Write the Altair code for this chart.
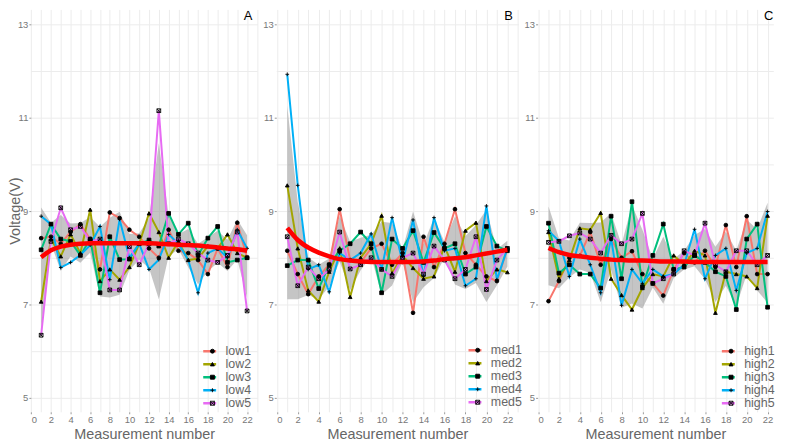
import altair as alt
import pandas as pd

x_vals = list(range(1, 23))

# Panel A (low)
low1 = [8.42, 8.45, 8.30, 8.55, 8.72, 8.40, 7.75, 8.97, 8.85, 8.60, 8.45, 8.20, 8.00, 8.60, 8.15, 8.10, 7.95, 7.65, 8.20, 7.80, 8.75, 8.00]
low2 = [7.06, 8.40, 8.03, 8.50, 8.10, 9.03, 7.50, 7.75, 7.53, 7.80, 8.30, 8.95, 8.55, 8.00, 8.35, 7.95, 7.98, 8.25, 8.20, 8.50, 8.10, 8.00]
low3 = [8.17, 8.72, 8.40, 8.35, 8.05, 8.40, 7.25, 8.45, 7.96, 7.97, 8.30, 8.38, 8.25, 8.95, 8.50, 8.74, 8.05, 8.42, 8.67, 7.90, 7.95, 8.00]
low4 = [8.89, 8.72, 7.79, 7.90, 8.06, 8.27, 8.67, 7.53, 8.82, 8.00, 8.30, 7.75, 7.96, 8.50, 8.30, 7.95, 7.25, 8.10, 8.20, 8.00, 8.60, 8.20]
low5 = [6.34, 8.35, 9.07, 8.60, 8.67, 8.35, 8.40, 7.31, 7.31, 8.24, 7.85, 8.30, 11.15, 8.30, 8.40, 8.30, 8.10, 7.95, 7.90, 8.05, 8.55, 6.86]
smooth_A = [8.01, 8.16, 8.24, 8.28, 8.30, 8.31, 8.31, 8.31, 8.31, 8.31, 8.31, 8.31, 8.30, 8.29, 8.28, 8.27, 8.26, 8.24, 8.22, 8.20, 8.18, 8.15]

# Panel B (med)
med1 = [8.15, 7.65, 7.22, 7.60, 7.85, 9.04, 7.95, 7.90, 8.20, 8.30, 7.85, 8.10, 6.82, 8.45, 7.80, 8.30, 9.04, 8.10, 7.85, 7.60, 7.50, 8.20]
med2 = [9.55, 8.20, 7.30, 7.06, 7.70, 8.20, 7.16, 8.00, 8.30, 8.90, 7.67, 8.05, 7.78, 7.55, 7.60, 8.25, 7.70, 8.58, 8.75, 7.50, 7.75, 7.69]
med3 = [7.83, 7.95, 7.95, 7.34, 7.85, 8.15, 8.30, 8.55, 8.30, 7.25, 8.40, 8.20, 8.58, 7.90, 8.54, 8.20, 8.30, 7.65, 7.80, 8.67, 8.25, 8.15]
med4 = [11.93, 9.55, 7.75, 7.85, 7.27, 8.10, 7.95, 8.10, 8.51, 7.75, 8.86, 7.90, 8.81, 7.60, 8.86, 8.15, 8.20, 7.40, 7.55, 9.11, 7.53, 8.20]
med5 = [8.45, 7.40, 7.80, 7.55, 7.75, 8.55, 7.76, 7.85, 8.00, 7.75, 7.60, 8.00, 8.10, 7.65, 8.25, 7.95, 7.55, 7.75, 8.45, 7.32, 7.95, 8.20]
smooth_B = [8.64, 8.38, 8.22, 8.11, 8.03, 7.97, 7.94, 7.92, 7.91, 7.91, 7.91, 7.91, 7.91, 7.92, 7.94, 7.97, 7.99, 8.01, 8.05, 8.09, 8.13, 8.17]

# Panel C (high)
high1 = [7.07, 7.50, 8.00, 8.04, 8.55, 7.85, 8.40, 8.00, 8.14, 7.65, 7.45, 7.19, 7.75, 8.10, 7.90, 8.15, 7.80, 8.70, 7.80, 8.89, 7.65, 7.65]
high2 = [8.55, 7.55, 7.95, 8.63, 8.60, 8.96, 7.55, 7.20, 6.89, 7.35, 7.65, 7.60, 8.05, 7.85, 8.15, 8.05, 6.82, 7.70, 7.65, 7.60, 7.35, 8.90]
high3 = [8.74, 7.67, 7.85, 7.65, 7.65, 7.35, 8.89, 7.55, 9.20, 7.38, 8.05, 8.72, 7.75, 7.80, 8.05, 7.90, 7.70, 7.60, 6.89, 8.40, 8.72, 6.94]
high4 = [8.58, 8.36, 7.60, 8.40, 7.85, 7.25, 8.42, 6.98, 7.75, 7.45, 7.75, 7.60, 7.65, 7.85, 8.61, 7.55, 8.05, 8.20, 7.30, 8.10, 8.20, 8.99]
high5 = [8.33, 8.35, 8.47, 8.53, 8.40, 8.10, 8.48, 8.30, 8.40, 8.95, 7.45, 7.55, 7.65, 8.15, 8.05, 8.74, 7.85, 7.70, 8.15, 8.15, 7.85, 8.05]
smooth_C = [8.21, 8.12, 8.06, 8.03, 8.00, 7.98, 7.96, 7.95, 7.94, 7.94, 7.93, 7.92, 7.92, 7.92, 7.91, 7.91, 7.91, 7.91, 7.91, 7.91, 7.91, 7.91]

panel_letters = ["A", "B", "C"]
series_names = [["low1", "low2", "low3", "low4", "low5"],
                ["med1", "med2", "med3", "med4", "med5"],
                ["high1", "high2", "high3", "high4", "high5"]]
series_values = [[low1, low2, low3, low4, low5],
                 [med1, med2, med3, med4, med5],
                 [high1, high2, high3, high4, high5]]
smooth_values = [smooth_A, smooth_B, smooth_C]

x_tick_values = list(range(0, 24))
y_tick_values = list(range(5, 14))

# styles
colors = ["#F8766D", "#A3A500", "#00BF7D", "#00B0F6", "#E76BF3"]
syms = ["s1", "s2", "s3", "s4", "s5"]
shapes = ["circle", "triangle-up", "square", "M-1,0H1M0,-1V1",
          "M-1,-1H1V1H-1ZM-1,-1L1,1M-1,1L1,-1"]
fills = ["black", "black", "black", "transparent", "transparent"]
T975_DF4 = 2.776  # t quantile for a 95% CI with n=5

FONT = "Liberation Sans"
UNIT = [9.87, 10.55, 10.5]          # px per measurement
X_MAX = [23.05, 23.05, 22.55]
H = 405
Y_DOMAIN = [4.70, 13.32]
legend_pos = [(172, 337.5), (192, 336.5), (184, 337.5)]


def panel(i):
    rows = []
    for name, sym, vals in zip(series_names[i], syms, series_values[i]):
        for x, v in zip(x_vals, vals):
            rows.append({"series": name, "sym": sym, "x": x, "v": v})
    df = pd.DataFrame(rows)
    sm = pd.DataFrame({"x": x_vals, "v": smooth_values[i]})
    W = round((X_MAX[i] + 0.05) * UNIT[i], 1)
    lx, ly = legend_pos[i]

    xenc = alt.X("x:Q", scale=alt.Scale(domain=[-0.05, X_MAX[i]], nice=False, zero=False),
                 axis=alt.Axis(values=[v for v in x_tick_values if v <= X_MAX[i]], title="Measurement number",
                               labelExpr="datum.value % 2 == 0 ? datum.label : ''",
                               tickOpacity={"condition": {"test": "datum.value % 2 == 1", "value": 0}, "value": 1}))
    yaxis = alt.Axis(values=y_tick_values,
                     labelExpr="datum.value % 2 == 1 ? datum.label : ''",
                     tickOpacity={"condition": {"test": "datum.value % 2 == 0", "value": 0}, "value": 1},
                     title="Voltage(V)" if i == 0 else "",
                     titleX=-8, titleBaseline="bottom")
    yscale = alt.Scale(domain=Y_DOMAIN, nice=False, zero=False)

    base = alt.Chart(df)
    band = base.transform_aggregate(
        m="mean(v)", sd="stdev(v)", groupby=["x"]
    ).transform_calculate(
        lo=f"datum.m - {T975_DF4} * datum.sd / sqrt(5)",
        hi=f"datum.m + {T975_DF4} * datum.sd / sqrt(5)",
    ).mark_area(color="#8c8c8c", opacity=0.5).encode(
        x=xenc, y=alt.Y("lo:Q", scale=yscale, axis=yaxis), y2="hi:Q")

    lines = base.mark_line(strokeWidth=2).encode(
        x=xenc, y=alt.Y("v:Q", scale=yscale, axis=yaxis),
        color=alt.Color("series:N", scale=alt.Scale(domain=series_names[i], range=colors),
                        legend=alt.Legend(orient="none", legendX=lx, legendY=ly, title=None,
                                          symbolType="stroke", symbolSize=169, symbolStrokeWidth=2.5,
                                          labelFontSize=12.5, labelColor="#666666", labelFont=FONT,
                                          labelOffset=8, rowPadding=0.1, padding=0, clipHeight=13)),
        detail="series:N")

    points = base.mark_point(filled=False, stroke="black", strokeWidth=0.9, size=14, opacity=1).encode(
        x=xenc, y=alt.Y("v:Q", scale=yscale, axis=yaxis),
        shape=alt.Shape("sym:N", scale=alt.Scale(domain=syms, range=shapes),
                        legend=alt.Legend(orient="none", legendX=lx + 4.5, legendY=ly, title=None,
                                          symbolSize=16, symbolFillColor="black", symbolStrokeColor="black",
                                          symbolStrokeWidth=0.9,
                                          labelFontSize=12.5, labelExpr="' '", labelFont=FONT,
                                          labelOffset=8, rowPadding=0.1, padding=0, clipHeight=13)),
        fill=alt.Fill("sym:N", scale=alt.Scale(domain=syms, range=fills), legend=None))

    smooth = alt.Chart(sm).mark_line(color="#FF0000", strokeWidth=4.5, interpolate="monotone").encode(
        x=xenc, y=alt.Y("v:Q", scale=yscale, axis=yaxis))

    lab = alt.Chart(pd.DataFrame({"t": [panel_letters[i]]})).mark_text(
        fontSize=13, font=FONT, color="black", align="center", baseline="middle").encode(
        text="t:N", x=alt.value(round(22.1 * UNIT[i] + 0.5, 1)), y=alt.value(7))

    return alt.layer(band, lines, points, smooth, lab).resolve_scale(
        color="independent", shape="independent", fill="independent"
    ).properties(width=W, height=H)


chart = alt.hconcat(panel(0), panel(1), panel(2), spacing=19, bounds="flush").resolve_scale(
    color="independent", shape="independent", fill="independent"
).resolve_legend(color="independent", shape="independent", fill="independent").properties(
    padding={"left": 0, "top": 0, "right": 0, "bottom": 0},
).configure_axis(
    grid=True, gridColor="#ececec", gridWidth=1, domain=False,
    tickColor="#999999", tickSize=2, labelPadding=1,
    labelFont=FONT, labelFontSize=9.5, labelColor="#777777",
    titleFont=FONT, titleFontSize=14.5, titleColor="#666666", titleFontWeight="normal",
    titlePadding=3,
).configure_view(stroke=None).configure_legend(labelFont=FONT)

chart.save("out.html", embed_options={"renderer": "svg", "actions": False})
